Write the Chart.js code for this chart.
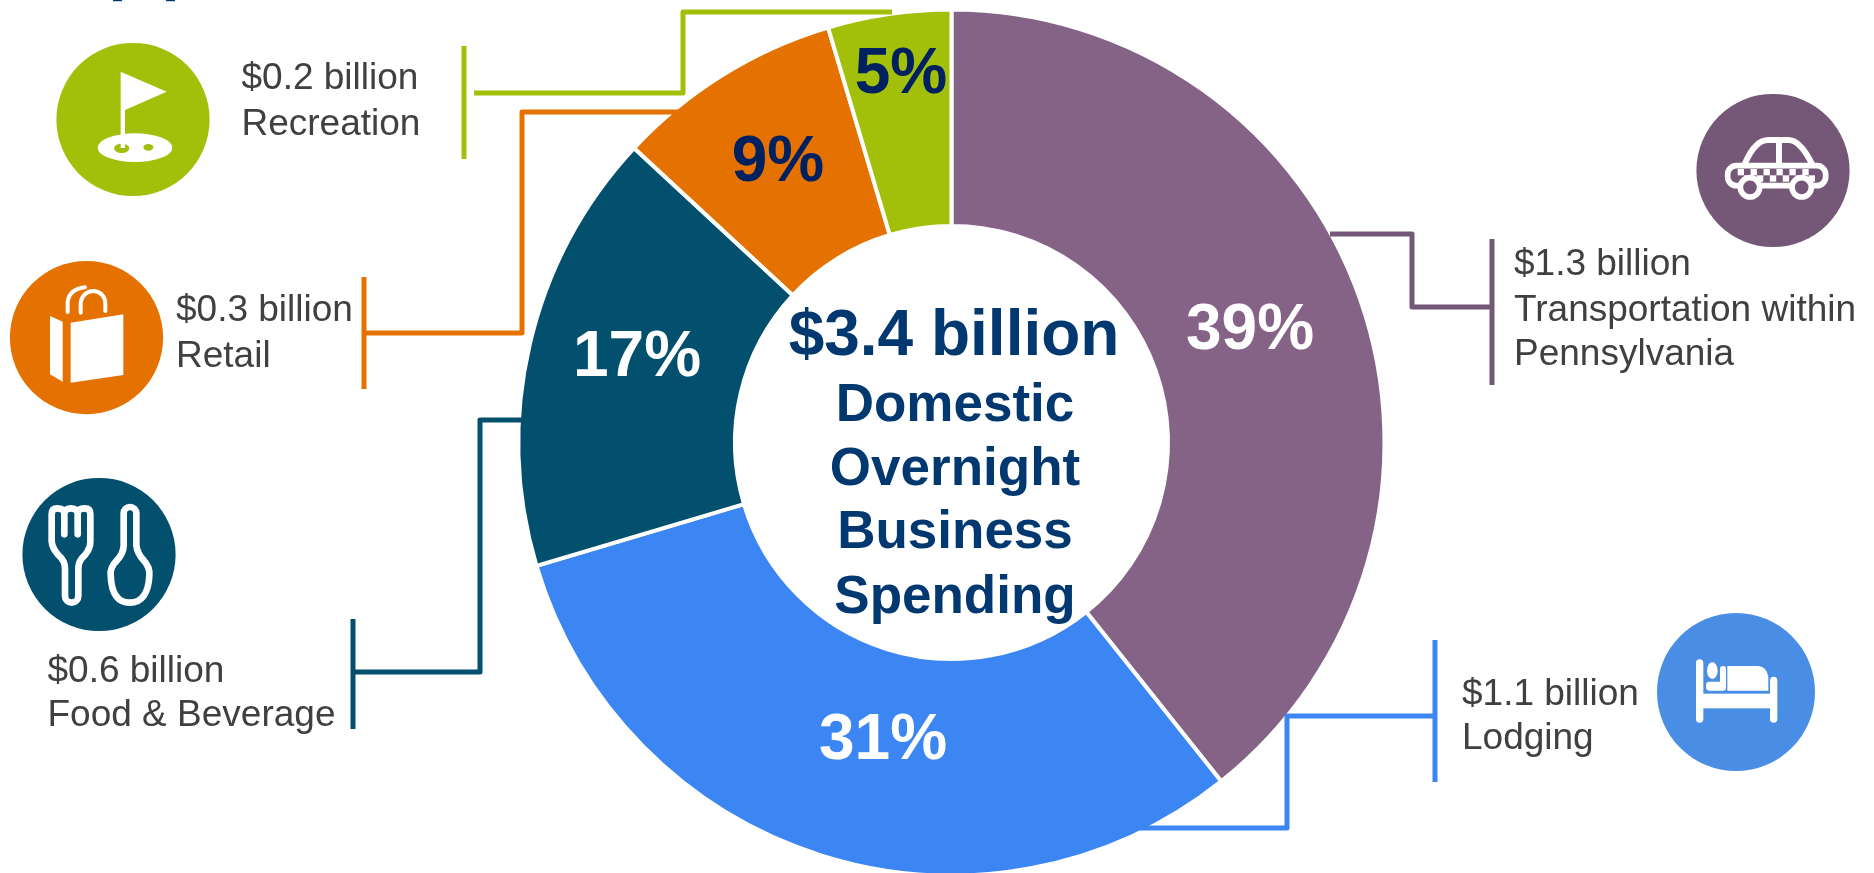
<!DOCTYPE html>
<html>
<head>
<meta charset="utf-8">
<title>Domestic Overnight Business Spending</title>
<script src="https://cdn.jsdelivr.net/npm/chart.js@4/dist/chart.umd.min.js"></script>
<style>
    html, body { margin: 0; padding: 0; background: #fff; overflow: hidden; }
    canvas { display: block; }
</style>
</head>
<body>
<canvas id="chart1" width="1874" height="880"></canvas>
<script>
const categories = ['Transportation within Pennsylvania', 'Lodging', 'Food & Beverage', 'Retail', 'Recreation'];
// slice shares measured from the angles in the picture, the printed labels are rounded
const shares = [39.3, 31.1, 16.5, 8.5, 4.6];
const percentLabels = ['39%', '31%', '17%', '9%', '5%'];
const amounts = ['$1.3 billion', '$1.1 billion', '$0.6 billion', '$0.3 billion', '$0.2 billion'];
const centerLines = ['$3.4 billion', 'Domestic', 'Overnight', 'Business', 'Spending'];

const sliceColors = ['#856387', '#3B86F3', '#034F6E', '#E57200', '#A2BF0A'];
const iconColors = ['#755877', '#4A8DE5', '#034F6E', '#E57200', '#A2BF0A'];
const leaderColors = ['#755877', '#3B86F3', '#034F6E', '#E57200', '#A2BF0A'];
const percentColors = ['#fff', '#fff', '#fff', '#002060', '#002060'];

const font = '"Liberation Sans", Arial, sans-serif';

// layout, in page pixels
const percentPos = [[1250, 349], [883, 759], [637, 376], [778, 181], [901, 93]];
const calloutPos = [
    [1514, [275, 321, 365]],
    [1462, [705, 749]],
    [47.5, [682, 726]],
    [176, [321, 367]],
    [241.5, [89, 135]]
];
const calloutLines = [
    [amounts[0], 'Transportation within', 'Pennsylvania'],
    [amounts[1], categories[1]],
    [amounts[2], categories[2]],
    [amounts[3], categories[3]],
    [amounts[4], categories[4]]
];
const centerPos = [[954, 355, 64], [955, 421, 53], [955, 485, 53], [955, 548, 53], [955, 613, 53]];
const leaders = [
    { bar: [1492, 239, 385], path: [[1330, 234], [1412, 234], [1412, 307], [1492, 307]] },
    { bar: [1435, 640, 782], path: [[1435, 716], [1287, 716], [1287, 828], [1136, 828]] },
    { bar: [353, 619, 729], path: [[353, 672], [480, 672], [480, 420], [525, 420]] },
    { bar: [364, 277, 389], path: [[364, 333], [522, 333], [522, 112], [680, 112]] },
    { bar: [464, 46, 159], path: [[474, 93], [683, 93], [683, 12], [892, 12]] }
];
const iconCircles = [[1773, 170.5, 76.6], [1736, 692, 79], [99, 554.5, 76.6], [86.5, 337.6, 76.6], [133, 119.5, 76.6]];

function drawLeaders(ctx) {
    leaders.forEach((l, i) => {
        ctx.strokeStyle = leaderColors[i];
        ctx.lineWidth = 5;
        ctx.lineCap = 'butt';
        ctx.lineJoin = 'round';
        ctx.beginPath();
        ctx.moveTo(l.bar[0], l.bar[1]);
        ctx.lineTo(l.bar[0], l.bar[2]);
        ctx.stroke();
        ctx.beginPath();
        l.path.forEach((p, j) => j ? ctx.lineTo(p[0], p[1]) : ctx.moveTo(p[0], p[1]));
        ctx.stroke();
    });
}

// each icon is drawn in the pixels of a 3x crop, ox/oy is the crop corner
function inCrop(ctx, ox, oy, fn) {
    ctx.save();
    ctx.translate(ox, oy);
    ctx.scale(1 / 3, 1 / 3);
    ctx.fillStyle = '#fff';
    ctx.strokeStyle = '#fff';
    ctx.lineJoin = 'round';
    ctx.lineCap = 'round';
    fn();
    ctx.restore();
}

function poly(ctx, pts) {
    ctx.beginPath();
    pts.forEach((p, j) => j ? ctx.lineTo(p[0], p[1]) : ctx.moveTo(p[0], p[1]));
    ctx.closePath();
    ctx.fill();
}

function drawTaxi(ctx) {
    inCrop(ctx, 1700, 100, () => {
        ctx.lineWidth = 18;
        ctx.beginPath();
        ctx.moveTo(135, 190);
        ctx.quadraticCurveTo(165, 120, 205, 120);
        ctx.lineTo(265, 120);
        ctx.quadraticCurveTo(300, 120, 335, 190);
        ctx.moveTo(237, 120);
        ctx.lineTo(237, 190);
        ctx.stroke();
        ctx.lineWidth = 17;
        ctx.beginPath();
        ctx.roundRect(83, 197, 294, 60, 26);
        ctx.stroke();
        // checker band
        for (let c = 0; c < 6; c++) {
            const x = 132 + c * 38.8;
            ctx.fillRect(x - 19, 207, 19, 19);
            ctx.fillRect(x, 226, 19, 19);
        }
        ctx.fillStyle = iconColors[0];
        [150, 305].forEach(x => {
            ctx.beginPath();
            ctx.arc(x, 262, 29, 0, Math.PI * 2);
            ctx.fill();
            ctx.stroke();
        });
    });
}

function drawBed(ctx) {
    inCrop(ctx, 1670, 630, () => {
        ctx.beginPath();
        ctx.roundRect(78, 88, 22, 190, 11);
        ctx.roundRect(300, 140, 22, 138, 11);
        ctx.fill();
        ctx.fillRect(95, 191, 210, 44);
        ctx.beginPath();
        ctx.moveTo(172, 108);
        ctx.lineTo(265, 108);
        ctx.quadraticCurveTo(290, 110, 295, 140);
        ctx.lineTo(295, 182);
        ctx.lineTo(172, 182);
        ctx.closePath();
        ctx.fill();
        ctx.beginPath();
        ctx.ellipse(127, 122, 16, 25, 0, 0, Math.PI * 2);
        ctx.fill();
        ctx.beginPath();
        ctx.roundRect(108, 155, 60, 27, 10);
        ctx.roundRect(150, 108, 18, 74, 9);
        ctx.fill();
    });
}

function drawCutlery(ctx) {
    inCrop(ctx, 30, 490, () => {
        ctx.lineWidth = 20;
        ctx.beginPath();
        ctx.moveTo(103, 133);
        ctx.lineTo(103, 68);
        ctx.quadraticCurveTo(100, 55, 82, 55);
        ctx.quadraticCurveTo(65, 55, 65, 72);
        ctx.lineTo(65, 155);
        ctx.quadraticCurveTo(67, 175, 85, 195);
        ctx.quadraticCurveTo(105, 212, 105, 235);
        ctx.lineTo(105, 318);
        ctx.arc(125, 318, 20, Math.PI, 0, true);
        ctx.lineTo(145, 235);
        ctx.quadraticCurveTo(145, 212, 165, 195);
        ctx.quadraticCurveTo(181, 175, 181, 155);
        ctx.lineTo(181, 72);
        ctx.quadraticCurveTo(181, 55, 164, 55);
        ctx.quadraticCurveTo(145, 55, 143, 68);
        ctx.lineTo(143, 133);
        ctx.moveTo(103, 68);
        ctx.quadraticCurveTo(107, 55, 123, 55);
        ctx.quadraticCurveTo(139, 55, 143, 68);
        ctx.stroke();
        ctx.beginPath();
        ctx.moveTo(281, 72);
        ctx.arc(300, 70, 19, Math.PI, 0);
        ctx.lineTo(319, 165);
        ctx.quadraticCurveTo(321, 190, 342, 212);
        ctx.quadraticCurveTo(360, 232, 358, 255);
        ctx.bezierCurveTo(356, 310, 335, 338, 299, 338);
        ctx.bezierCurveTo(264, 338, 244, 310, 242, 255);
        ctx.quadraticCurveTo(240, 232, 260, 212);
        ctx.quadraticCurveTo(281, 190, 281, 165);
        ctx.closePath();
        ctx.stroke();
    });
}

function drawBag(ctx) {
    inCrop(ctx, 30, 280, () => {
        poly(ctx, [[122, 128], [280, 103], [280, 285], [122, 308]]);
        poly(ctx, [[60, 108], [98, 125], [98, 305], [60, 283]]);
        ctx.lineWidth = 12;
        ctx.beginPath();
        ctx.moveTo(113, 96);
        ctx.lineTo(113, 65);
        ctx.quadraticCurveTo(118, 28, 165, 22);
        ctx.moveTo(152, 98);
        ctx.lineTo(152, 72);
        ctx.bezierCurveTo(155, 20, 225, 20, 226, 72);
        ctx.lineTo(226, 93);
        ctx.stroke();
    });
}

function drawFlag(ctx) {
    inCrop(ctx, 80, 60, () => {
        ctx.beginPath();
        ctx.ellipse(165, 263, 112, 43, 0, 0, Math.PI * 2);
        ctx.fill();
        ctx.fillStyle = iconColors[4];
        ctx.beginPath();
        ctx.ellipse(125, 265, 23, 14, 0, 0, Math.PI * 2);
        ctx.ellipse(205, 262, 15, 10, 0, 0, Math.PI * 2);
        ctx.fill();
        ctx.fillStyle = '#fff';
        poly(ctx, [[122, 35], [260, 95], [135, 150], [135, 264], [122, 264]]);
    });
}

const overlayPlugin = {
    id: 'overlay',
    afterDatasetsDraw(chart) {
        const ctx = chart.ctx;
        ctx.save();

        drawLeaders(ctx);

        iconCircles.forEach((c, i) => {
            ctx.fillStyle = iconColors[i];
            ctx.beginPath();
            ctx.arc(c[0], c[1], c[2], 0, Math.PI * 2);
            ctx.fill();
        });
        drawTaxi(ctx);
        drawBed(ctx);
        drawCutlery(ctx);
        drawBag(ctx);
        drawFlag(ctx);

        // descenders of a heading cropped off by the top edge of the picture
        ctx.fillStyle = '#00386F';
        ctx.fillRect(113, 0, 9, 1.2);
        ctx.fillRect(166, 0, 9, 1.2);

        ctx.textBaseline = 'alphabetic';

        ctx.textAlign = 'center';
        ctx.font = 'bold 64px ' + font;
        percentLabels.forEach((t, i) => {
            ctx.fillStyle = percentColors[i];
            ctx.fillText(t, percentPos[i][0], percentPos[i][1]);
        });

        ctx.fillStyle = '#00386F';
        centerLines.forEach((t, i) => {
            ctx.font = 'bold ' + centerPos[i][2] + 'px ' + font;
            ctx.fillText(t, centerPos[i][0], centerPos[i][1]);
        });

        ctx.textAlign = 'left';
        ctx.font = '37px ' + font;
        ctx.fillStyle = '#404040';
        calloutLines.forEach((lines, i) => {
            lines.forEach((t, j) => {
                ctx.fillText(t, calloutPos[i][0], calloutPos[i][1][j]);
            });
        });

        ctx.restore();
    }
};

new Chart(document.getElementById('chart1').getContext('2d'), {
    type: 'doughnut',
    data: {
        labels: categories,
        datasets: [{
            data: shares,
            backgroundColor: sliceColors,
            borderColor: '#fff',
            borderWidth: 4,
            hoverOffset: 0
        }]
    },
    options: {
        responsive: false,
        animation: false,
        cutout: 216.5,
        layout: { padding: { left: 516.5, right: 487.5, top: 7.5, bottom: 2.5 } },
        plugins: {
            legend: { display: false },
            tooltip: { enabled: false }
        },
        events: []
    },
    plugins: [overlayPlugin]
});
</script>
</body>
</html>
